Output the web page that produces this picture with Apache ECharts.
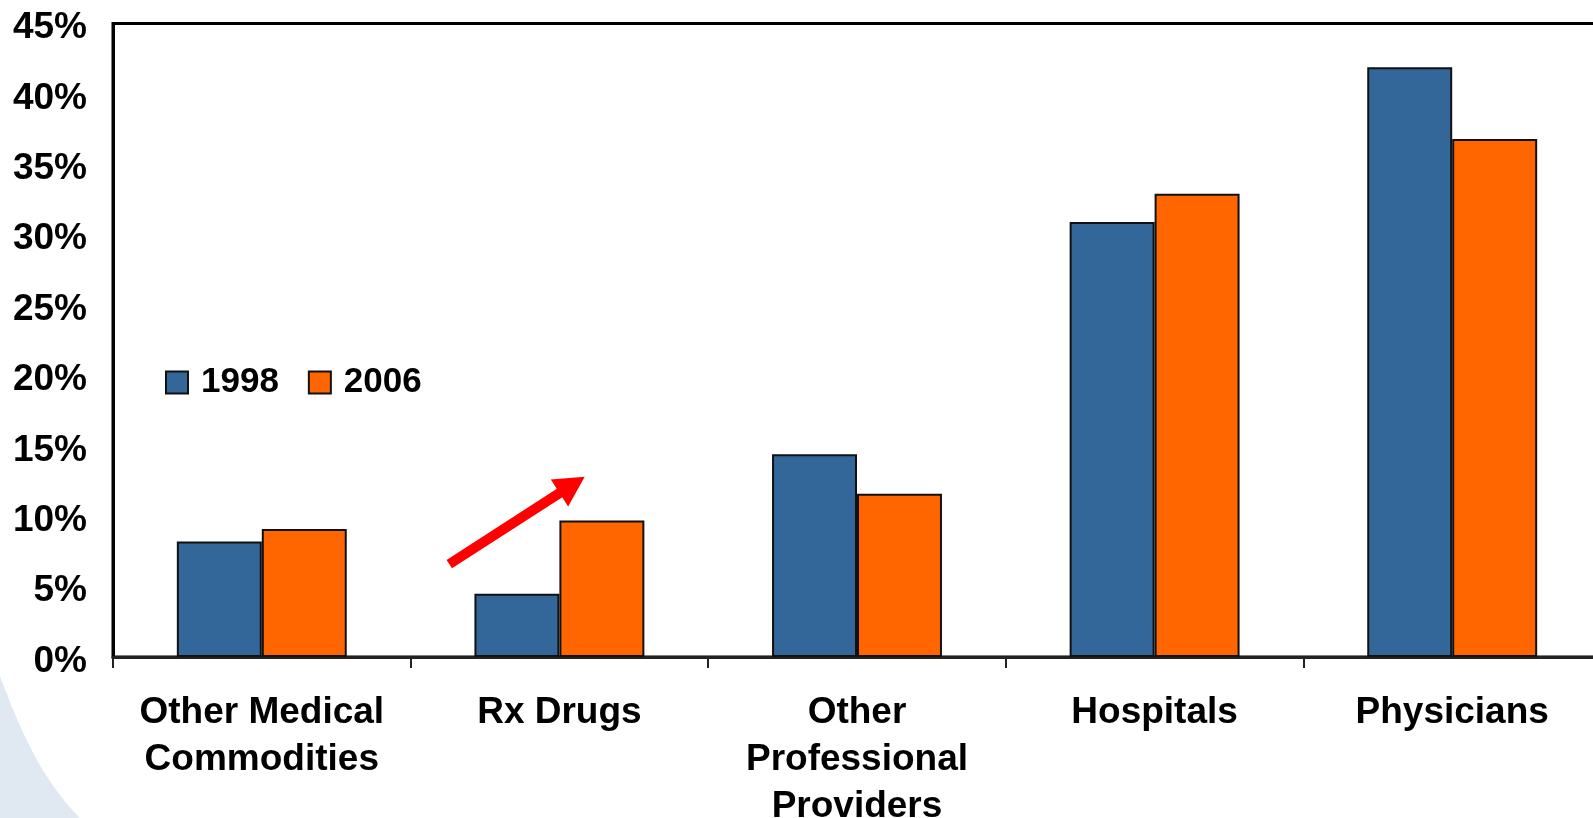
<!DOCTYPE html>
<html>
<head>
<meta charset="utf-8">
<script src="https://cdn.jsdelivr.net/npm/echarts@6/dist/echarts.min.js"></script>
<style>
  html, body { margin: 0; padding: 0; background: #ffffff; }
  #chart { width: 1593px; height: 818px; }
</style>
</head>
<body>
<div id="chart"></div>
<script>
// Share of spending by provider type, 1998 vs 2006
const categories = ['Other Medical\nCommodities', 'Rx Drugs', 'Other\nProfessional\nProviders', 'Hospitals', 'Physicians'];
const seriesNames = ['1998', '2006'];
const values1998 = [8.2, 4.5, 14.4, 30.9, 41.9];
const values2006 = [9.1, 9.7, 11.6, 32.9, 36.8];
const yTicks = { min: 0, max: 45, interval: 5 };

// Trend arrow over "Rx Drugs": [category index offset, percent] for tail and tip
const arrowTail = [0.63, 6.6];
const arrowTip = [1.085, 12.8];

const FONT = '"Liberation Sans", Arial, Helvetica, sans-serif';
const chart = echarts.init(document.getElementById('chart'), null, { renderer: 'canvas' });

const barStyle = (color) => ({ color: color, borderColor: '#111111', borderWidth: 2 });

chart.setOption({
  backgroundColor: '#ffffff',
  animation: false,
  grid: {
    left: 113, top: 23.5, width: 1488, height: 633.5,
    outerBoundsMode: 'none', containLabel: false,
    show: true, borderColor: '#000000', borderWidth: 3, backgroundColor: 'transparent'
  },
  legend: {
    data: seriesNames,
    left: 160, top: 360,
    itemWidth: 22, itemHeight: 22, itemGap: 29,
    icon: 'rect',
    textStyle: { fontFamily: FONT, fontWeight: 'bold', fontSize: 35, color: '#000000', padding: [0, 0, 0, 8] }
  },
  xAxis: {
    type: 'category',
    data: categories,
    axisLine: { show: true, lineStyle: { color: '#222222', width: 3 } },
    axisTick: { show: true, length: 11, lineStyle: { color: '#222222', width: 2 } },
    axisLabel: {
      fontFamily: FONT, fontWeight: 'bold', fontSize: 37, color: '#000000',
      lineHeight: 47, margin: 32, interval: 0
    },
    splitLine: { show: false }
  },
  yAxis: {
    type: 'value',
    min: yTicks.min, max: yTicks.max, interval: yTicks.interval,
    axisLine: { show: true, lineStyle: { color: '#000000', width: 3 } },
    axisTick: { show: false },
    splitLine: { show: false },
    axisLabel: {
      formatter: (v) => '{p|' + v + '%}', margin: 26,
      rich: {
        p: { fontFamily: FONT, fontWeight: 'bold', fontSize: 37, color: '#000000', padding: [9, 0, 0, 0] }
      }
    }
  },
  series: [
    { name: seriesNames[0], type: 'bar', data: values1998, barGap: '0%', barCategoryGap: '42.9%', itemStyle: barStyle('#336699') },
    { name: seriesNames[1], type: 'bar', data: values2006, barGap: '0%', barCategoryGap: '42.9%', itemStyle: barStyle('#FF6600') }
  ]
});

// Map an [index offset, percent] pair to pixels through the axes
function toPixel(pt) {
  const base = Math.floor(pt[0]);
  const frac = pt[0] - base;
  const x0 = chart.convertToPixel({ xAxisIndex: 0 }, base);
  const x1 = chart.convertToPixel({ xAxisIndex: 0 }, base + 1);
  const y = chart.convertToPixel({ yAxisIndex: 0 }, pt[1]);
  return [x0 + (x1 - x0) * frac, y];
}

const tail = toPixel(arrowTail);
const tip = toPixel(arrowTip);
const dx = tip[0] - tail[0], dy = tip[1] - tail[1];
const len = Math.sqrt(dx * dx + dy * dy);
const ux = dx / len, uy = dy / len;
const headLen = 30, headHalf = 16;
const bx = tip[0] - ux * headLen, by = tip[1] - uy * headLen;

// Soft background swoosh in the lower-left corner
const swoosh = [];
const p0 = [0, 676], c1 = [20, 730], c2 = [42, 780], p3 = [80, 818];
for (let i = 0; i <= 30; i++) {
  const t = i / 30, s = 1 - t;
  swoosh.push([
    s * s * s * p0[0] + 3 * s * s * t * c1[0] + 3 * s * t * t * c2[0] + t * t * t * p3[0],
    s * s * s * p0[1] + 3 * s * s * t * c1[1] + 3 * s * t * t * c2[1] + t * t * t * p3[1]
  ]);
}
swoosh.push([0, 818]);

chart.setOption({
  graphic: [
    {
      type: 'polygon', z: -10, silent: true,
      shape: { points: swoosh },
      style: { fill: '#e0e9f1' }
    },
    {
      type: 'line', z: 100, silent: true,
      shape: { x1: tail[0], y1: tail[1], x2: bx + ux * 2, y2: by + uy * 2 },
      style: { stroke: '#ff0000', lineWidth: 10 }
    },
    {
      type: 'polygon', z: 100, silent: true,
      shape: { points: [tip, [bx - uy * headHalf, by + ux * headHalf], [bx + uy * headHalf, by - ux * headHalf]] },
      style: { fill: '#ff0000' }
    }
  ]
});
</script>
</body>
</html>
